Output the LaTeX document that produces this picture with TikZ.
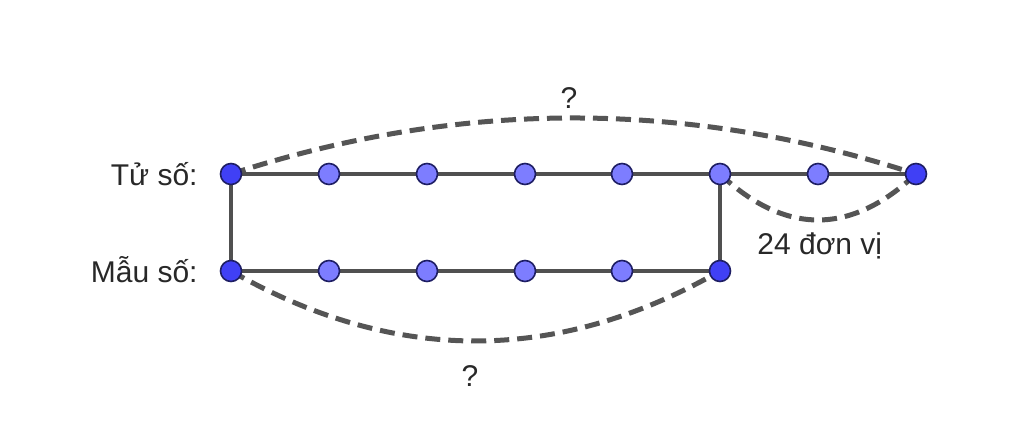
\documentclass[tikz,border=0pt]{standalone}
\usepackage{fontspec}
\setmainfont{Liberation Sans}
\begin{document}
\begin{tikzpicture}[x=0.5pt,y=-0.5pt,
  seg/.style={draw=segcol,line width=2pt},
  dashcurve/.style={draw=dashcol,line width=2.5pt,dash pattern=on 7.5pt off 4pt},
  ptlight/.style={circle,draw=ptedge,line width=0.8pt,fill=ptlightfill,minimum size=10.5pt,inner sep=0pt},
  ptdark/.style={circle,draw=ptedge,line width=0.8pt,fill=ptdarkfill,minimum size=10.5pt,inner sep=0pt},
  lbl/.style={inner sep=0pt,font=\fontsize{15}{18}\selectfont,text=textcol}]
\definecolor{segcol}{RGB}{80,80,80}
\definecolor{dashcol}{RGB}{85,85,85}
\definecolor{ptedge}{RGB}{30,30,100}
\definecolor{ptlightfill}{RGB}{125,125,255}
\definecolor{ptdarkfill}{RGB}{64,64,245}
\definecolor{textcol}{RGB}{40,40,40}
\fill[white] (0,0) rectangle (1024,423);
\useasboundingbox (0,0) rectangle (1024,423);
% coordinates
\foreach \i/\x in {0/231,1/329,2/427,3/525,4/622,5/720,6/818,7/916}
  \coordinate (t\i) at (\x,174);
\foreach \i/\x in {0/231,1/329,2/427,3/525,4/622,5/720}
  \coordinate (b\i) at (\x,271);
% segments
\draw[seg] (t0) -- (t7);
\draw[seg] (b0) -- (b5);
\draw[seg] (t0) -- (b0);
\draw[seg] (t5) -- (b5);
% dashed curves
\draw[dashcurve] (t0) .. controls (459.3,99.3) and (687.7,99.3) .. (t7);
\draw[dashcurve] (b0) .. controls (394,364.3) and (557,364.3) .. (b5);
\draw[dashcurve] (t5) .. controls (785.3,235.3) and (850.7,235.3) .. (t7);
% points
\node[ptdark] (pt0) at (t0) {};
\foreach \i in {1,...,6} \node[ptlight] (pt\i) at (t\i) {};
\node[ptdark] (pt7) at (t7) {};
\node[ptdark] (pb0) at (b0) {};
\foreach \i in {1,...,4} \node[ptlight] (pb\i) at (b\i) {};
\node[ptdark] (pb5) at (b5) {};
% labels
\node[lbl,anchor=base east] (ltu) at (198,185) {Tử số:};
\node[lbl,anchor=base east] (lmau) at (198,282) {Mẫu số:};
\node[lbl,anchor=base] (qtop) at (569,108) {?};
\node[lbl,anchor=base] (qbot) at (470,386) {?};
\node[lbl,anchor=base west] (l24) at (757,254) {24 đơn vị};
\end{tikzpicture}
\end{document}
